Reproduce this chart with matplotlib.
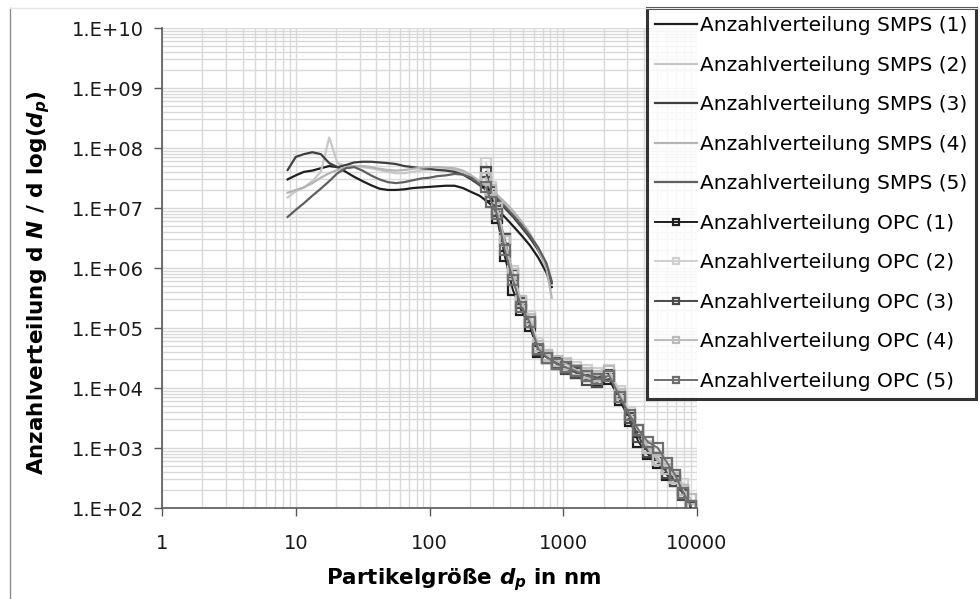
import numpy as np
import matplotlib
matplotlib.use("Agg")
import matplotlib.pyplot as plt
from matplotlib.ticker import LogLocator, FuncFormatter, NullFormatter
from matplotlib.lines import Line2D

plt.rcParams['font.family'] = ['DejaVu Sans']
plt.rcParams['mathtext.fontset'] = 'custom'
plt.rcParams['mathtext.rm'] = 'DejaVu Sans:bold'
plt.rcParams['mathtext.it'] = 'DejaVu Sans:italic:bold'
plt.rcParams['mathtext.bf'] = 'DejaVu Sans:bold'

# ---- SMPS (Durchmesser in nm) ----
d_smps = [8.7, 10, 11.5, 13.3, 15.4, 17.8, 20.5, 23.7, 27.4, 31.6, 36.5, 42.2, 48.7,
          56.2, 64.9, 75, 86.6, 100, 115, 133, 154, 178, 205, 237, 274, 316, 365,
          422, 487, 562, 649, 750, 820]

smps_1 = [3.0e7, 3.5e7, 4.0e7, 4.2e7, 4.6e7, 5.0e7, 4.8e7, 4.0e7, 3.3e7, 2.8e7, 2.4e7, 2.1e7, 2.0e7,
          2.0e7, 2.05e7, 2.15e7, 2.2e7, 2.25e7, 2.3e7, 2.35e7, 2.35e7, 2.15e7, 1.85e7, 1.6e7, 1.25e7,
          9.5e6, 7.1e6, 5.0e6, 3.5e6, 2.4e6, 1.5e6, 8.3e5, 4.8e5]
smps_2 = [1.5e7, 1.9e7, 2.2e7, 2.8e7, 4.0e7, 1.5e8, 5.6e7, 5.0e7, 5.0e7, 4.8e7, 4.6e7, 4.3e7, 4.0e7,
          3.8e7, 3.8e7, 4.0e7, 4.2e7, 4.3e7, 4.4e7, 4.4e7, 4.3e7, 4.0e7, 3.4e7, 2.7e7, 2.1e7,
          1.6e7, 1.15e7, 7.9e6, 5.4e6, 3.5e6, 2.1e6, 1.07e6, 5.25e5]
smps_3 = [4.3e7, 7.1e7, 7.9e7, 8.5e7, 7.9e7, 5.6e7, 4.8e7, 5.2e7, 5.75e7, 5.9e7, 5.9e7, 5.75e7, 5.6e7,
          5.4e7, 5.0e7, 4.8e7, 4.6e7, 4.5e7, 4.3e7, 4.2e7, 4.0e7, 3.6e7, 3.0e7, 2.4e7, 1.9e7,
          1.4e7, 1.0e7, 7.1e6, 4.8e6, 3.2e6, 2.0e6, 1.05e6, 5.6e5]
smps_4 = [1.8e7, 2.0e7, 2.2e7, 2.6e7, 3.2e7, 3.8e7, 4.3e7, 4.8e7, 5.0e7, 5.0e7, 4.8e7, 4.5e7, 4.3e7,
          4.2e7, 4.3e7, 4.5e7, 4.7e7, 4.8e7, 4.8e7, 4.7e7, 4.6e7, 4.2e7, 3.5e7, 2.8e7, 2.2e7,
          1.7e7, 1.26e7, 8.9e6, 6.0e6, 3.8e6, 2.1e6, 9.5e5, 3.2e5]
smps_5 = [7.1e6, 9.3e6, 1.2e7, 1.6e7, 2.1e7, 2.8e7, 3.8e7, 4.6e7, 4.8e7, 4.2e7, 3.5e7, 3.0e7, 2.7e7,
          2.6e7, 2.7e7, 2.9e7, 3.1e7, 3.2e7, 3.4e7, 3.5e7, 3.7e7, 3.6e7, 3.2e7, 2.5e7, 2.0e7,
          1.5e7, 1.07e7, 7.6e6, 5.25e6, 3.5e6, 2.2e6, 1.2e6, 6.0e5]

# ---- OPC (Durchmesser in nm) ----
d_opc = [265, 290, 320, 365, 420, 485, 560, 650, 760, 900, 1050, 1250, 1500, 1800,
         2200, 2650, 3150, 3650, 4300, 5100, 6000, 6900, 7900, 9000]

opc_1 = [2.75e7, 1.6e7, 6.8e6, 1.6e6, 4.3e5, 2.0e5, 1.1e5, 4.0e4, 3.2e4, 2.5e4, 2.2e4, 1.8e4,
         1.6e4, 1.3e4, 1.4e4, 6.3e3, 2.8e3, 1.26e3, 7.9e2, 5.6e2, 3.5e2, 2.8e2, 2.0e2, 1.0e2]
opc_2 = [5.6e7, 2.2e7, 1.0e7, 3.2e6, 8.9e5, 2.8e5, 1.6e5, 5.6e4, 3.5e4, 2.8e4, 2.6e4, 2.2e4,
         2.0e4, 1.8e4, 2.0e4, 8.9e3, 4.0e3, 2.0e3, 1.1e3, 7.1e2, 5.0e2, 3.5e2, 2.5e2, 1.4e2]
opc_3 = [4.0e7, 1.85e7, 8.9e6, 3.0e6, 7.6e5, 2.6e5, 1.26e5, 4.3e4, 3.2e4, 2.6e4, 2.1e4, 1.8e4,
         1.35e4, 1.26e4, 1.66e4, 7.1e3, 3.2e3, 1.55e3, 8.7e2, 6.3e2, 3.8e2, 2.8e2, 1.66e2, 1.1e2]
opc_4 = [3.2e7, 2.0e7, 1.0e7, 2.8e6, 7.9e5, 2.8e5, 1.4e5, 5.0e4, 3.5e4, 2.8e4, 2.5e4, 2.0e4,
         1.8e4, 1.6e4, 1.9e4, 7.9e3, 3.5e3, 2.0e3, 1.0e3, 6.3e2, 4.5e2, 3.2e2, 2.0e2, 1.4e2]
opc_5 = [2.2e7, 1.26e7, 7.9e6, 2.0e6, 6.3e5, 2.2e5, 1.26e5, 4.5e4, 3.2e4, 2.5e4, 2.2e4, 1.9e4,
         1.6e4, 1.4e4, 1.6e4, 7.1e3, 3.5e3, 2.0e3, 1.26e3, 1.0e3, 5.6e2, 3.5e2, 1.8e2, 1.1e2]

smps_series = [smps_1, smps_2, smps_3, smps_4, smps_5]
opc_series = [opc_1, opc_2, opc_3, opc_4, opc_5]
smps_colors = ['#1e1e1e', '#c8c8c8', '#3f3f3f', '#b4b4b4', '#5f5f5f']
opc_colors = ['#1e1e1e', '#d0d0d0', '#4a4a4a', '#bcbcbc', '#6e6e6e']

fig = plt.figure(figsize=(9.8, 5.99), dpi=100)
ax = fig.add_axes([162/980, 91/599, 535/980, 480/599])

for i, (vals, c) in enumerate(zip(smps_series, smps_colors)):
    ax.plot(d_smps, vals, color=c, lw=1.6, label=f'Anzahlverteilung SMPS ({i+1})', zorder=3)
for i, (vals, c) in enumerate(zip(opc_series, opc_colors)):
    ax.plot(d_opc, vals, color=c, lw=1.4, marker='s', ms=7.5, mfc='none', mec=c, mew=1.6,
            label=f'Anzahlverteilung OPC ({i+1})', zorder=4)

ax.set_xscale('log')
ax.set_yscale('log')
ax.set_xlim(1, 10000)
ax.set_ylim(1e2, 1e10)

ax.xaxis.set_major_locator(LogLocator(base=10, numticks=10))
ax.xaxis.set_minor_locator(LogLocator(base=10, subs=np.arange(2, 10), numticks=20))
ax.yaxis.set_major_locator(LogLocator(base=10, numticks=12))
ax.yaxis.set_minor_locator(LogLocator(base=10, subs=np.arange(2, 10), numticks=20))
ax.xaxis.set_major_formatter(FuncFormatter(lambda v, p: f"{v:.0f}"))
ax.yaxis.set_major_formatter(FuncFormatter(lambda v, p: f"1.E+{int(round(np.log10(v))):02d}"))
ax.xaxis.set_minor_formatter(NullFormatter())
ax.yaxis.set_minor_formatter(NullFormatter())

ax.grid(which='both', color='#d9d9d9', lw=1.0, zorder=0)
ax.set_axisbelow(True)
ax.tick_params(which='major', direction='out', length=6, width=1, color='#595959',
               labelsize=14, labelcolor='#1a1a1a')
ax.tick_params(axis='y', pad=7)
ax.tick_params(axis='x', pad=13)
ax.tick_params(which='minor', length=0)
for s in ['top', 'right']:
    ax.spines[s].set_visible(False)
for s in ['left', 'bottom']:
    ax.spines[s].set_color('#595959')
    ax.spines[s].set_linewidth(1.2)

ax.set_xlabel('Partikelgröße $d_p$ in nm', fontsize=15.5, fontweight='bold')
ax.set_ylabel('Anzahlverteilung d $N$ / d log($d_p$)', fontsize=15.5, fontweight='bold')
ax.xaxis.set_label_coords((464 - 162) / 535, (508 - 566) / 480)
ax.yaxis.set_label_coords((52 - 162) / 535, (508 - 283) / 480)

leg = ax.legend(loc='upper left', bbox_to_anchor=(647/980, 1 - 8/599), bbox_transform=fig.transFigure,
                fontsize=14.5, frameon=True, fancybox=False, handlelength=2.1, handletextpad=0.15,
                labelspacing=1.02, borderpad=0.4, markerscale=0.6, borderaxespad=0)
leg.get_frame().set_edgecolor('black')
leg.get_frame().set_linewidth(2.2)
leg.set_zorder(10)

# Rahmen des Diagrammbereichs
fig.add_artist(Line2D([10/980, 10/980], [0, 1 - 8/599], color='#8c8c8c', lw=1))
fig.add_artist(Line2D([10/980, 1], [1 - 8/599, 1 - 8/599], color='#e6e6e6', lw=1))

fig.savefig('out.png', dpi=100)
